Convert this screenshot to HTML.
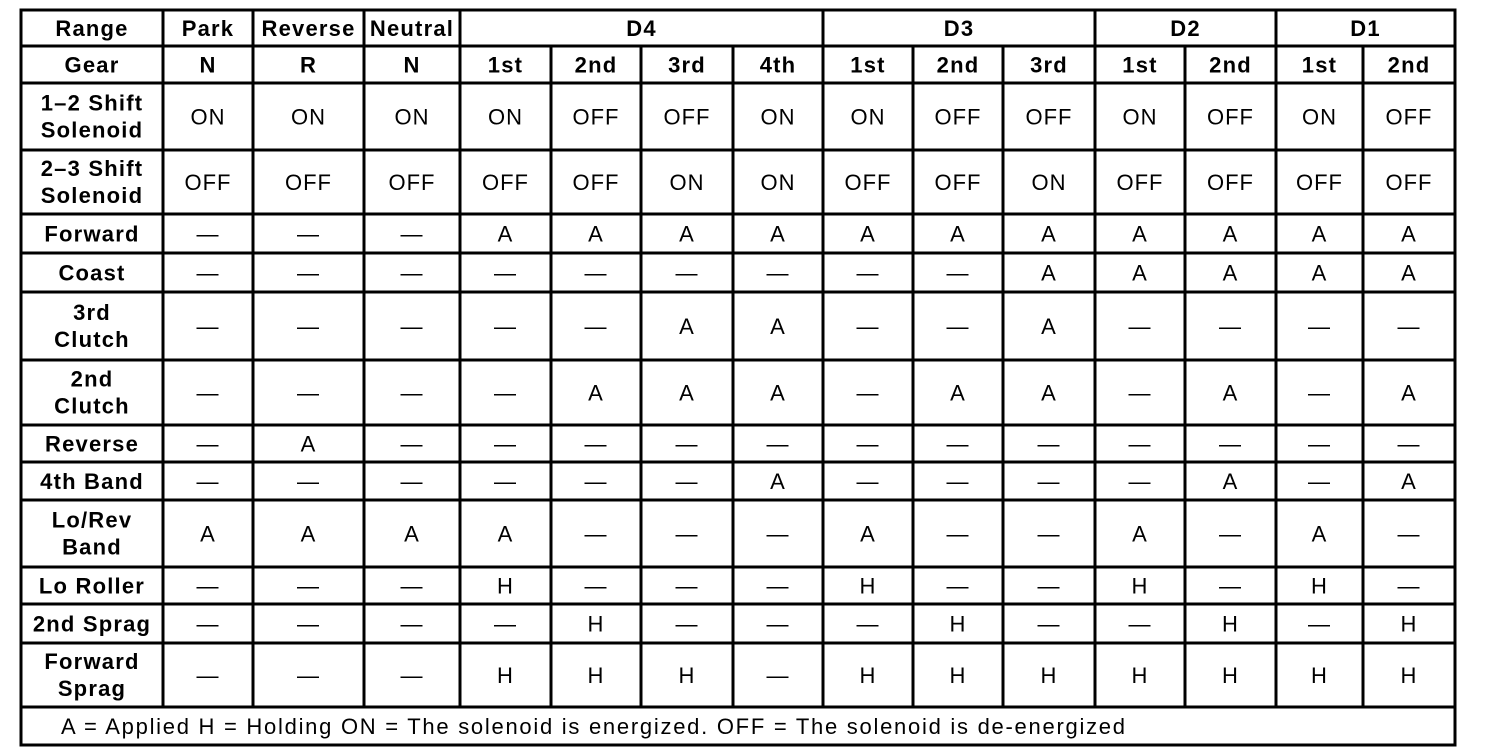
<!DOCTYPE html>
<html><head><meta charset="utf-8"><style>
html,body{margin:0;padding:0;background:#fff;width:1504px;height:750px;overflow:hidden}
svg{display:block}
text{font-family:"Liberation Sans",Arial,sans-serif;fill:#000}
.h{font-weight:bold;font-size:22px;letter-spacing:1.2px}
.c{font-size:22px;letter-spacing:1px}
.f{font-size:22px}
</style></head><body>
<svg width="1504" height="750" xmlns="http://www.w3.org/2000/svg">
<g stroke="#000" stroke-width="3" fill="none" id="grid"></g>
<g id="txt"></g>
</svg>
<script>
const X=[21,163,253,364,460,551,641,733,823,913,1003,1095,1185,1276,1363,1455];
const Y=[10,46,83,150,214,253,292,360,425,462,500,567,604,643,707,745];
const ns="http://www.w3.org/2000/svg";
const g=document.getElementById('grid'),t=document.getElementById('txt');
function line(x1,y1,x2,y2){const l=document.createElementNS(ns,'line');l.setAttribute('x1',x1);l.setAttribute('y1',y1);l.setAttribute('x2',x2);l.setAttribute('y2',y2);g.appendChild(l);}
function text(x,y,s,cls){const e=document.createElementNS(ns,'text');e.setAttribute('x',x);e.setAttribute('y',y);e.setAttribute('text-anchor','middle');e.setAttribute('class',cls);e.textContent=s;t.appendChild(e);}
for(let i=0;i<Y.length;i++)line(X[0]-1.5,Y[i],X[15]+1.5,Y[i]);
line(X[0],Y[0],X[0],Y[15]);line(X[15],Y[0],X[15],Y[15]);
const groupCols=[1,2,3,4,8,11,13];
for(let i=1;i<15;i++){
  const top=groupCols.includes(i)?Y[0]:Y[1];
  line(X[i],top,X[i],Y[14]);
}
const hdr=[["Range",0,1],["Park",1,2],["Reverse",2,3],["Neutral",3,4],["D4",4,8],["D3",8,11],["D2",11,13],["D1",13,15]];
hdr.forEach(([s,a,b])=>text((X[a]+X[b])/2,(Y[0]+Y[1])/2+8,s,'h'));
const gear=["Gear","N","R","N","1st","2nd","3rd","4th","1st","2nd","3rd","1st","2nd","1st","2nd"];
gear.forEach((s,i)=>text((X[i]+X[i+1])/2,(Y[1]+Y[2])/2+8,s,'h'));
const D="—";
const rows=[
[["1–2 Shift","Solenoid"],["ON","ON","ON","ON","OFF","OFF","ON","ON","OFF","OFF","ON","OFF","ON","OFF"]],
[["2–3 Shift","Solenoid"],["OFF","OFF","OFF","OFF","OFF","ON","ON","OFF","OFF","ON","OFF","OFF","OFF","OFF"]],
[["Forward"],[D,D,D,"A","A","A","A","A","A","A","A","A","A","A"]],
[["Coast"],[D,D,D,D,D,D,D,D,D,"A","A","A","A","A"]],
[["3rd","Clutch"],[D,D,D,D,D,"A","A",D,D,"A",D,D,D,D]],
[["2nd","Clutch"],[D,D,D,D,"A","A","A",D,"A","A",D,"A",D,"A"]],
[["Reverse"],[D,"A",D,D,D,D,D,D,D,D,D,D,D,D]],
[["4th Band"],[D,D,D,D,D,D,"A",D,D,D,D,"A",D,"A"]],
[["Lo/Rev","Band"],["A","A","A","A",D,D,D,"A",D,D,"A",D,"A",D]],
[["Lo Roller"],[D,D,D,"H",D,D,D,"H",D,D,"H",D,"H",D]],
[["2nd Sprag"],[D,D,D,D,"H",D,D,D,"H",D,D,"H",D,"H"]],
[["Forward","Sprag"],[D,D,D,"H","H","H",D,"H","H","H","H","H","H","H"]]
];
rows.forEach(([lab,vals],r)=>{
  const y0=Y[r+2],y1=Y[r+3],cy=(y0+y1)/2;
  if(lab.length==1)text((X[0]+X[1])/2,cy+8,lab[0],'h');
  else{text((X[0]+X[1])/2,cy-6,lab[0],'h');text((X[0]+X[1])/2,cy+21,lab[1],'h');}
  vals.forEach((v,i)=>text((X[i+1]+X[i+2])/2,cy+8,v,'c'));
});
const f=document.createElementNS(ns,'text');f.setAttribute('x',61);f.setAttribute('y',734);f.setAttribute('class','f');
f.setAttribute('textLength','1064');f.setAttribute('lengthAdjust','spacing');
f.textContent="A = Applied H = Holding ON = The solenoid is energized. OFF = The solenoid is de-energized";t.appendChild(f);
</script>
</body></html>
